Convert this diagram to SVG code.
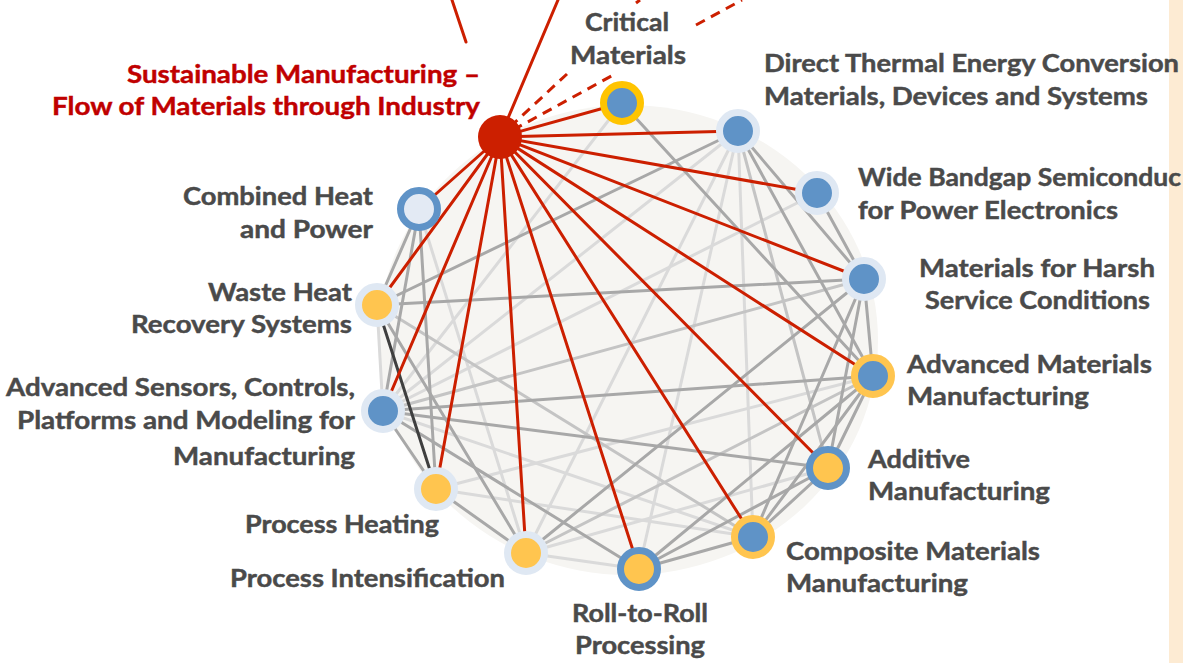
<svg xmlns="http://www.w3.org/2000/svg" width="1183" height="663" viewBox="0 0 1183 663">
<style>
.bg{fill:#F6F5F2}
.band{fill:#FDEBD3}
line{stroke-width:3;stroke-linecap:round}
.gl{stroke:#DADADA}
.gm{stroke:#A8A8A8}
.gs{stroke:#C4C4C4}
.gd{stroke:#3F3F3F}
.rd{stroke:#CC1F00}
.dash{stroke:#CC1F00;stroke-dasharray:10 7;stroke-linecap:butt}
.ringL{stroke:#DFE8F3;stroke-width:7}
.ringB{stroke:#5F93C7;stroke-width:7}
.ringY{stroke:#FFC54F;stroke-width:7}
.ringG{stroke:#FFC400;stroke-width:7}
.fB{fill:#5F93C7}
.fY{fill:#FFC54F}
.fL{fill:#E3EAF4}
text{font-family:"Lato","Carlito","Liberation Sans",sans-serif;font-weight:bold;font-size:25px;fill:#4A4A4A;stroke:#4A4A4A;stroke-width:0.45}
text.red{fill:#C00000;stroke:#C00000}
</style>
<rect class="band" x="1169" y="0" width="14" height="663"/>
<ellipse class="bg" cx="628" cy="340" rx="250" ry="235"/>
<g id="connectors">
<line class="gl" x1="622" y1="103" x2="383" y2="411"/>
<line class="gl" x1="738" y1="131" x2="383" y2="411"/>
<line class="gl" x1="738" y1="131" x2="526" y2="553"/>
<line class="gl" x1="738" y1="131" x2="639" y2="569"/>
<line class="gl" x1="738" y1="131" x2="753" y2="537"/>
<line class="gl" x1="817" y1="193" x2="383" y2="411"/>
<line class="gl" x1="419" y1="209" x2="526" y2="553"/>
<line class="gl" x1="383" y1="411" x2="753" y2="537"/>
<line class="gl" x1="526" y1="553" x2="828" y2="468"/>
<line class="gl" x1="526" y1="553" x2="639" y2="569"/>
<line class="gl" x1="377" y1="305" x2="383" y2="411"/>
<line class="gl" x1="436" y1="489" x2="753" y2="537"/>
<line class="gl" x1="436" y1="489" x2="873" y2="376"/>
<line class="gs" x1="738" y1="131" x2="828" y2="468"/>
<line class="gs" x1="383" y1="411" x2="864" y2="279"/>
<line class="gs" x1="526" y1="553" x2="873" y2="376"/>
<line class="gs" x1="377" y1="305" x2="753" y2="537"/>
<line class="gm" x1="419" y1="209" x2="377" y2="305"/>
<line class="gm" x1="419" y1="209" x2="383" y2="411"/>
<line class="gm" x1="419" y1="209" x2="436" y2="489"/>
<line class="gm" x1="377" y1="305" x2="738" y2="131"/>
<line class="gm" x1="377" y1="305" x2="864" y2="279"/>
<line class="gm" x1="377" y1="305" x2="526" y2="553"/>
<line class="gm" x1="383" y1="411" x2="873" y2="376"/>
<line class="gm" x1="383" y1="411" x2="828" y2="468"/>
<line class="gm" x1="383" y1="411" x2="639" y2="569"/>
<line class="gm" x1="383" y1="411" x2="436" y2="489"/>
<line class="gm" x1="436" y1="489" x2="526" y2="553"/>
<line class="gm" x1="526" y1="553" x2="864" y2="279"/>
<line class="gm" x1="639" y1="569" x2="753" y2="537"/>
<line class="gm" x1="639" y1="569" x2="828" y2="468"/>
<line class="gm" x1="639" y1="569" x2="873" y2="376"/>
<line class="gm" x1="753" y1="537" x2="828" y2="468"/>
<line class="gm" x1="753" y1="537" x2="873" y2="376"/>
<line class="gm" x1="753" y1="537" x2="864" y2="279"/>
<line class="gm" x1="828" y1="468" x2="873" y2="376"/>
<line class="gm" x1="828" y1="468" x2="864" y2="279"/>
<line class="gm" x1="873" y1="376" x2="864" y2="279"/>
<line class="gm" x1="873" y1="376" x2="738" y2="131"/>
<line class="gm" x1="864" y1="279" x2="817" y2="193"/>
<line class="gm" x1="864" y1="279" x2="738" y2="131"/>
<line class="gm" x1="622" y1="103" x2="873" y2="376"/>
<line class="gd" x1="377" y1="305" x2="436" y2="489"/>
<line class="rd" x1="452" y1="0" x2="466" y2="42"/>
<line class="rd" x1="500" y1="137" x2="558" y2="0"/>
<line class="dash" x1="510" y1="127" x2="567" y2="74"/>
<line class="dash" x1="636" y1="3" x2="640" y2="0"/>
<line class="dash" x1="513" y1="130" x2="615" y2="74"/>
<line class="dash" x1="696" y1="25" x2="742" y2="0"/>
<line class="rd" x1="500" y1="137" x2="622" y2="103"/>
<line class="rd" x1="500" y1="137" x2="738" y2="131"/>
<line class="rd" x1="500" y1="137" x2="817" y2="193"/>
<line class="rd" x1="500" y1="137" x2="864" y2="279"/>
<line class="rd" x1="500" y1="137" x2="873" y2="376"/>
<line class="rd" x1="500" y1="137" x2="828" y2="468"/>
<line class="rd" x1="500" y1="137" x2="753" y2="537"/>
<line class="rd" x1="500" y1="137" x2="639" y2="569"/>
<line class="rd" x1="500" y1="137" x2="526" y2="553"/>
<line class="rd" x1="500" y1="137" x2="436" y2="489"/>
<line class="rd" x1="500" y1="137" x2="383" y2="411"/>
<line class="rd" x1="500" y1="137" x2="377" y2="305"/>
<line class="rd" x1="500" y1="137" x2="419" y2="209"/>
</g>
<g id="n-sustainable">
<circle cx="500" cy="137" r="22" fill="#CC1F00"/>
<text class="red" x="127" y="83" textLength="353" lengthAdjust="spacingAndGlyphs">Sustainable Manufacturing –</text>
<text class="red" x="52" y="115" textLength="428" lengthAdjust="spacingAndGlyphs">Flow of Materials through Industry</text>
</g>
<g id="n-critical">
<circle class="fB ringG" cx="622" cy="103" r="18.5"/>
<text x="585" y="31" textLength="84" lengthAdjust="spacingAndGlyphs">Critical</text>
<text x="570" y="64" textLength="116" lengthAdjust="spacingAndGlyphs">Materials</text>
</g>
<g id="n-thermal">
<circle class="fB ringL" cx="738" cy="131" r="18.5"/>
<text x="764" y="72" textLength="415" lengthAdjust="spacingAndGlyphs">Direct Thermal Energy Conversion</text>
<text x="764" y="105" textLength="384" lengthAdjust="spacingAndGlyphs">Materials, Devices and Systems</text>
</g>
<g id="n-widebandgap">
<circle class="fB ringL" cx="817" cy="193" r="18.5"/>
<text x="858" y="186" textLength="323" lengthAdjust="spacingAndGlyphs">Wide Bandgap Semiconduc</text>
<text x="858" y="219" textLength="260" lengthAdjust="spacingAndGlyphs">for Power Electronics</text>
</g>
<g id="n-harsh">
<circle class="fB ringL" cx="864" cy="279" r="18.5"/>
<text x="919" y="277" textLength="236" lengthAdjust="spacingAndGlyphs">Materials for Harsh</text>
<text x="925" y="309" textLength="225" lengthAdjust="spacingAndGlyphs">Service Conditions</text>
</g>
<g id="n-advmaterials">
<circle class="fB ringY" cx="873" cy="376" r="18.5"/>
<text x="907" y="373" textLength="245" lengthAdjust="spacingAndGlyphs">Advanced Materials</text>
<text x="907" y="405" textLength="182" lengthAdjust="spacingAndGlyphs">Manufacturing</text>
</g>
<g id="n-additive">
<circle class="fY ringB" cx="828" cy="468" r="18.5"/>
<text x="868" y="468" textLength="102" lengthAdjust="spacingAndGlyphs">Additive</text>
<text x="868" y="500" textLength="182" lengthAdjust="spacingAndGlyphs">Manufacturing</text>
</g>
<g id="n-composite">
<circle class="fB ringY" cx="753" cy="537" r="18.5"/>
<text x="786" y="560" textLength="254" lengthAdjust="spacingAndGlyphs">Composite Materials</text>
<text x="786" y="592" textLength="182" lengthAdjust="spacingAndGlyphs">Manufacturing</text>
</g>
<g id="n-rolltoroll">
<circle class="fY ringB" cx="639" cy="569" r="18.5"/>
<text x="572" y="622" textLength="136" lengthAdjust="spacingAndGlyphs">Roll-to-Roll</text>
<text x="575" y="654" textLength="130" lengthAdjust="spacingAndGlyphs">Processing</text>
</g>
<g id="n-intensification">
<circle class="fY ringL" cx="526" cy="553" r="18.5"/>
<text x="230" y="587" textLength="275" lengthAdjust="spacingAndGlyphs">Process Intensification</text>
</g>
<g id="n-heating">
<circle class="fY ringL" cx="436" cy="489" r="18.5"/>
<text x="245" y="533" textLength="194" lengthAdjust="spacingAndGlyphs">Process Heating</text>
</g>
<g id="n-sensors">
<circle class="fB ringL" cx="383" cy="411" r="18.5"/>
<text x="6" y="396" textLength="349" lengthAdjust="spacingAndGlyphs">Advanced Sensors, Controls,</text>
<text x="17" y="429" textLength="338" lengthAdjust="spacingAndGlyphs">Platforms and Modeling for</text>
<text x="173" y="465" textLength="182" lengthAdjust="spacingAndGlyphs">Manufacturing</text>
</g>
<g id="n-wasteheat">
<circle class="fY ringL" cx="377" cy="305" r="18.5"/>
<text x="208" y="301" textLength="144" lengthAdjust="spacingAndGlyphs">Waste Heat</text>
<text x="131" y="333" textLength="221" lengthAdjust="spacingAndGlyphs">Recovery Systems</text>
</g>
<g id="n-chp">
<circle class="fL ringB" cx="419" cy="209" r="18.5"/>
<text x="183" y="205" textLength="190" lengthAdjust="spacingAndGlyphs">Combined Heat</text>
<text x="240" y="238" textLength="133" lengthAdjust="spacingAndGlyphs">and Power</text>
</g>
</svg>
